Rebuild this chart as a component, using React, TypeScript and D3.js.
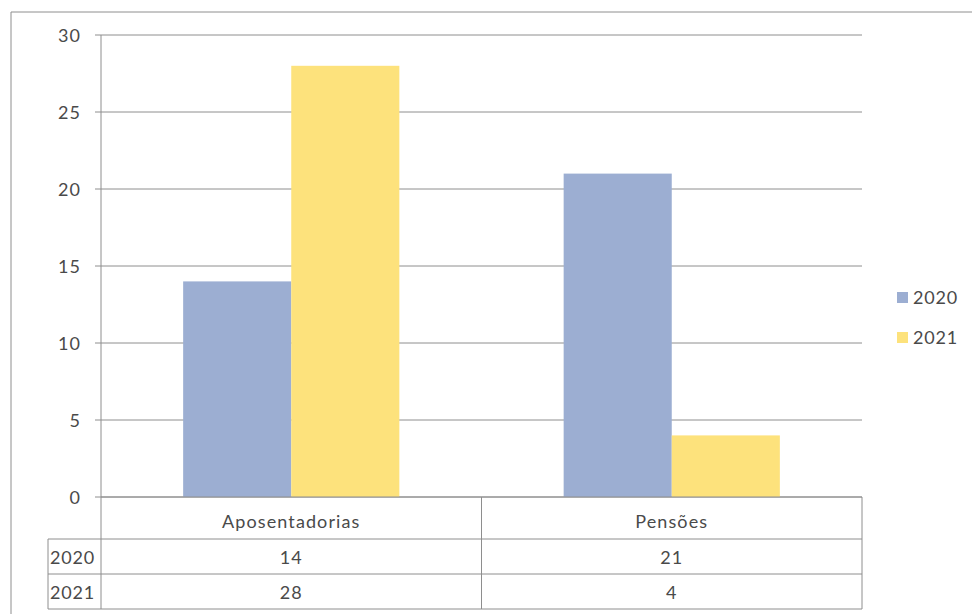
import React from 'react';
import * as d3 from 'd3';

const categories = ['Aposentadorias', 'Pensões'];
const seriesNames = ['2020', '2021'];
const values2020 = [14, 21];
const values2021 = [28, 4];
const yTicks = [0, 5, 10, 15, 20, 25, 30];

const colors = ['#9caed2', '#fde27c'];
const textColor = '#4a4a4a';
const lineColor = '#8e8e8e';
const font = 'Lato, "Open Sans", sans-serif';

const W = 972;
const H = 614;
const left = 101;
const right = 862;
const top = 35;
const bottom = 497;

const App: React.FC = () => {
  const series = [values2020, values2021];

  const x = d3.scaleBand<string>().domain(categories).range([left, right]);
  const inner = d3
    .scaleBand<string>()
    .domain(seriesNames)
    .range([0, x.bandwidth()])
    .paddingOuter(0.76)
    .paddingInner(0);
  const y = d3.scaleLinear().domain([0, 30]).range([bottom, top]);

  const rowLabel = bottom + 42;
  const rowH = 35;

  return (
    <svg
      width={W}
      height={H}
      style={{ position: 'absolute', left: 0, top: 0, background: '#fff' }}
      fontFamily={font}
    >
      {/* outer frame */}
      <line x1={11} y1={12} x2={W} y2={12} stroke={lineColor} />
      <line x1={11} y1={12} x2={11} y2={H} stroke={lineColor} />

      {/* gridlines + ticks */}
      {yTicks.map(t => (
        <g key={t}>
          <line x1={95} x2={right} y1={y(t)} y2={y(t)} stroke={lineColor} strokeWidth={1} />
          <text
            x={81}
            y={y(t)}
            textAnchor="end"
            dominantBaseline="central"
            fontSize={18}
            letterSpacing={1}
            fill={textColor}
          >
            {t}
          </text>
        </g>
      ))}

      {/* bars */}
      {series.map((vals, si) =>
        vals.map((v, ci) => (
          <rect
            key={`${si}-${ci}`}
            x={(x(categories[ci]) ?? 0) + (inner(seriesNames[si]) ?? 0)}
            y={y(v)}
            width={inner.bandwidth()}
            height={bottom - y(v)}
            fill={colors[si]}
          />
        ))
      )}

      {/* axis line */}
      <line x1={left} x2={left} y1={top} y2={rowLabel + rowH * 2} stroke={lineColor} />

      {/* data table */}
      <g stroke={lineColor} fill="none">
        <line x1={left} x2={right} y1={bottom} y2={bottom} />
        <line x1={48} x2={right} y1={rowLabel} y2={rowLabel} />
        <line x1={48} x2={right} y1={rowLabel + rowH} y2={rowLabel + rowH} />
        <line x1={48} x2={right} y1={rowLabel + rowH * 2} y2={rowLabel + rowH * 2} />
        <line x1={48} x2={48} y1={rowLabel} y2={rowLabel + rowH * 2} />
        <line x1={right} x2={right} y1={bottom} y2={rowLabel + rowH * 2} />
        {categories.slice(1).map(c => (
          <line key={c} x1={x(c)} x2={x(c)} y1={bottom} y2={rowLabel + rowH * 2} />
        ))}
      </g>
      {categories.map(c => (
        <text
          key={c}
          x={(x(c) ?? 0) + x.bandwidth() / 2}
          y={bottom + 24}
          textAnchor="middle"
          dominantBaseline="central"
          fontSize={18}
          letterSpacing={1.1}
          fill={textColor}
        >
          {c}
        </text>
      ))}
      {series.map((vals, si) => (
        <g key={si}>
          <text
            x={50}
            y={rowLabel + rowH * si + rowH / 2}
            dominantBaseline="central"
            fontSize={18}
            letterSpacing={0.8}
            fill={textColor}
          >
            {seriesNames[si]}
          </text>
          {vals.map((v, ci) => (
            <text
              key={ci}
              x={(x(categories[ci]) ?? 0) + x.bandwidth() / 2}
              y={rowLabel + rowH * si + rowH / 2}
              textAnchor="middle"
              dominantBaseline="central"
              fontSize={18}
              letterSpacing={1}
              fill={textColor}
            >
              {v}
            </text>
          ))}
        </g>
      ))}

      {/* legend */}
      {seriesNames.map((s, i) => (
        <g key={s} transform={`translate(897, ${297 + i * 40})`}>
          <rect x={0} y={-5} width={11} height={11} fill={colors[i]} />
          <text
            x={16}
            y={0}
            dominantBaseline="central"
            fontSize={18}
            letterSpacing={0.8}
            fill={textColor}
          >
            {s}
          </text>
        </g>
      ))}
    </svg>
  );
};

export default App;
